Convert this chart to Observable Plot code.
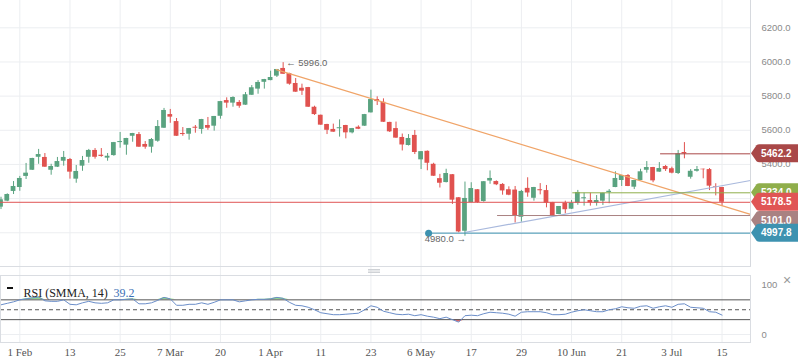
<!DOCTYPE html>
<html><head><meta charset="utf-8">
<script src="https://cdn.jsdelivr.net/npm/d3@7"></script>
<script src="https://cdn.jsdelivr.net/npm/@observablehq/plot@0.6"></script>
<style>
html,body{margin:0;padding:0;background:#fff;}
#wrap{position:relative;width:798px;height:363px;overflow:hidden;}
#main,#rsi{position:absolute;left:0;}
#main{top:0;} #rsi{top:267px;}
svg{display:block;}
</style></head><body>
<div id="wrap"><div id="main"></div><div id="rsi"></div></div>
<script>
const opens = [5150,5185,5242,5265,5330,5366,5442,5441,5366,5384,
5419,5429,5314,5390,5442,5482,5454,5437,5452,5528,
5513,5565,5575,5517,5501,5536,5612,5692,5651,5581,
5577,5618,5605,5628,5624,5682,5774,5759,5763,5747,
5805,5841,5881,5891,5917,5962,5932,5874,5846,5850,
5735,5688,5634,5605,5609,5628,5585,5618,5624,5702,
5780,5764,5646,5610,5558,5511,5570,5427,5477,5401,
5317,5294,5340,5205,5009,5177,5252,5183,5303,5300,
5283,5252,5250,5091,5260,5202,5252,5247,5177,5107,
5173,5138,5173,5199,5189,5175,5185,5236,5265,5306,
5335,5267,5306,5366,5382,5355,5388,5375,5347,5470,
5325,5360,5372,5370,5269,5265];
const highs = [5208,5228,5300,5330,5406,5436,5488,5464,5401,5441,
5476,5435,5394,5447,5488,5493,5493,5464,5529,5587,
5553,5582,5587,5534,5552,5657,5728,5722,5669,5616,
5611,5628,5664,5675,5681,5769,5790,5796,5774,5821,
5862,5891,5898,5946,5956,5996,5934,5903,5870,5851,
5741,5689,5635,5636,5661,5629,5611,5626,5693,5835,
5796,5784,5647,5648,5578,5575,5599,5476,5479,5407,
5342,5372,5341,5206,5297,5293,5253,5300,5362,5304,
5288,5269,5271,5248,5322,5266,5288,5277,5178,5154,
5185,5189,5248,5232,5232,5218,5232,5253,5357,5336,
5341,5307,5372,5417,5383,5411,5394,5384,5482,5528,
5370,5388,5373,5376,5287,5266];
const lows = [5136,5182,5224,5243,5312,5365,5401,5383,5337,5382,
5390,5314,5290,5360,5407,5431,5442,5419,5448,5495,
5454,5530,5500,5489,5466,5530,5611,5641,5564,5565,
5542,5583,5577,5600,5595,5665,5729,5735,5729,5746,
5804,5811,5841,5890,5909,5927,5864,5822,5804,5734,
5687,5629,5575,5588,5560,5550,5579,5604,5623,5701,
5745,5646,5587,5553,5479,5508,5458,5370,5363,5330,
5262,5292,5166,5000,4980,5176,5173,5179,5284,5276,
5220,5217,5057,5062,5208,5185,5222,5146,5097,5106,
5111,5137,5161,5156,5156,5156,5160,5170,5264,5271,
5270,5253,5305,5349,5293,5354,5359,5345,5341,5433,
5314,5355,5316,5247,5216,5154];
const closes = [5193,5224,5271,5318,5349,5435,5458,5384,5388,5417,
5441,5355,5359,5423,5482,5442,5447,5448,5528,5534,
5552,5581,5501,5501,5546,5622,5716,5677,5565,5575,
5610,5612,5663,5612,5681,5768,5759,5792,5741,5808,
5849,5880,5897,5909,5956,5928,5870,5823,5829,5735,
5692,5630,5600,5589,5615,5585,5610,5606,5692,5780,
5768,5647,5591,5554,5514,5552,5470,5475,5407,5331,
5290,5347,5191,5005,5201,5259,5177,5299,5318,5281,
5245,5220,5098,5242,5233,5265,5246,5173,5101,5154,
5135,5173,5236,5205,5175,5189,5231,5243,5318,5335,
5271,5306,5357,5382,5304,5376,5370,5349,5462,5462.2,
5360,5370,5369,5273,5265,5178.5];
const rsiValues = [60,63,66,70,72,74,76,68,67,67,
70,61,60,64,67,64,63,64,70,70,
71,72,62,62,64,69,75,72,59,59,
61,61,64,61,65,70,70,70,66,68,
70,71,71,72,75,73,65,59,58,55,
50,44,42,40,40,41,42,43,50,58,
55,47,44,41,40,41,38,40,37,35,
32,35,30,25,38,39,38,42,45,44,
43,41,37,45,46,46,46,44,40,40,
41,45,48,50,48,46,46,50,52,56,
54,53,57,58,53,56,58,55,61,62,
55,54,53,46,45,39.2];

const dateTickIndex = [3,11,19,27,35,43,51,59,67,75,83,91,99,107,115];
const dateLabels = ["1 Feb","13","25","7 Mar","20","1 Apr","11","23","6 May","17","29","10 Jun","21","3 Jul","15"];
const priceTicks = [5000,5200,5400,5600,5800,6000,6200];
const rsiTicks = [0,100];
const rsiLevels = [30,50,70];

// drawn tools
const orangeTrendX = [43.9, 119.54], orangeTrendY = [5955, 5108];
const blueTrendX = [74.08, 119.54], blueTrendY = [5003, 5306];
const levelValues = [5462.2, 5234.0, 5178.5, 5101.0, 4997.8];
const levelLabels = ["5462.2","5234.0","5178.5","5101.0","4997.8"];
const levelStart = [105.2, 91.2, -0.08, 79.2, 68.2];
const levelColors = ["#a94848","#8fae4b","#e05555","#a98282","#3d92b0"];
const highMark = {i:45, v:5996, label:"← 5996.0"};
const lowMark = {i:74, v:4980, label:"4980.0 →"};

const GREEN = "#5aa380", RED = "#e0524f";
const GRID = "#eceef1";
const xDomain = [-0.08, 119.54];

const candles = opens.map((o,i)=>({i, o, h:highs[i], l:lows[i], c:closes[i], up: closes[i] >= o}));
const up = candles.filter(d=>d.up), down = candles.filter(d=>!d.up);
const levels = levelValues.map((v,k)=>({v, x1: levelStart[k], x2: xDomain[1], color: levelColors[k]}));
const orange = orangeTrendX.map((x,k)=>({x, y: orangeTrendY[k]}));
const blue = blueTrendX.map((x,k)=>({x, y: blueTrendY[k]}));

const sans = "Liberation Sans, Arial, sans-serif";
const serif = "Liberation Serif, Times New Roman, serif";

const main = Plot.plot({
  width: 798, height: 267, marginLeft: 0, marginRight: 48, marginTop: 0, marginBottom: 1,
  x: {domain: xDomain, axis: null},
  y: {domain: [4802.6, 6359.8], axis: null},
  style: {fontFamily: sans, background: "transparent"},
  marks: [
    Plot.ruleY(priceTicks, {stroke: GRID}),
    Plot.ruleX(dateTickIndex, {stroke: GRID}),
    Plot.ruleX(up, {x: "i", y1: "l", y2: "h", stroke: GREEN}),
    Plot.ruleX(down, {x: "i", y1: "l", y2: "h", stroke: RED}),
    Plot.rect(up, {x1: d=>d.i-0.38, x2: d=>d.i+0.38, y1: "o", y2: "c", fill: GREEN}),
    Plot.rect(down, {x1: d=>d.i-0.38, x2: d=>d.i+0.38, y1: "o", y2: "c", fill: RED}),
    Plot.line(orange, {x: "x", y: "y", stroke: "#f0a468", strokeWidth: 1.2}),
    Plot.line(blue, {x: "x", y: "y", stroke: "#a9b9dd", strokeWidth: 1.2}),
    Plot.ruleY(levels, {y: "v", x1: "x1", x2: "x2", stroke: d=>d.color}),
    Plot.dot([levels[4]], {x: "x1", y: "v", r: 3.5, fill: "#3d92b0"}),
    Plot.text([highMark], {x: "i", y: "v", text: "label", textAnchor: "start", dx: 3, fill: "#666", fontSize: 9.5}),
    Plot.text([lowMark], {x: "i", y: "v", text: "label", textAnchor: "end", dx: 1, dy: 3, fill: "#666", fontSize: 9.5}),
    Plot.text(priceTicks, {x: xDomain[1], y: d=>d, text: d=>d.toFixed(1), textAnchor: "start", dx: 11, fill: "#8a8a8a", fontSize: 9.5}),
    Plot.ruleX([xDomain[1]], {stroke: "#d6d9de"}),
    Plot.frame({anchor: "bottom", stroke: "#dadde2"})
  ]
});
document.getElementById("main").appendChild(main);

const ys = main.scale("y");
const svgMain = d3.select(main);
function tag(v, color, label, off) {
  const y = ys.apply(v) + (off||0);
  const g = svgMain.append("g").attr("text-anchor", "start");
  g.append("path")
    .attr("d", `M751,${y} L756.5,${y-8} Q757.5,${y-9} 759.5,${y-9} H798 V${y+9} H759.5 Q757.5,${y+9} 756.5,${y+8} Z`)
    .attr("fill", color);
  g.append("text").attr("x", 761).attr("y", y).attr("dy", "0.35em")
    .attr("text-anchor", "start")
    .attr("fill", "#fff").attr("font-size", 10).attr("font-weight", "bold")
    .attr("font-family", sans).text(label);
}
const order = [1, 3, 4, 2, 0];
const offs = {3: 5};
order.forEach(k => tag(levelValues[k], levelColors[k], levelLabels[k], offs[k]));

const rsiData = rsiValues.map((v,i)=>({i, v}));
const rsi = Plot.plot({
  width: 798, height: 96, marginLeft: 0, marginRight: 48, marginTop: 8, marginBottom: 21,
  x: {domain: xDomain, axis: null},
  y: {domain: [-16.16, 119.19], axis: null},
  style: {fontFamily: sans, background: "transparent"},
  marks: [
    Plot.ruleX(dateTickIndex, {y1: 135.35, y2: -16.16, stroke: GRID}),
    Plot.ruleY([0], {stroke: GRID}),
    Plot.areaY(rsiData, {x: "i", y1: 70, y2: d=>Math.max(d.v,70), fill: "#8fd48f"}),
    Plot.areaY(rsiData, {x: "i", y1: d=>Math.min(d.v,30), y2: 30, fill: "#e86a6a"}),
    Plot.ruleY([rsiLevels[0], rsiLevels[2]], {stroke: "#555"}),
    Plot.ruleY([rsiLevels[1]], {stroke: "#555", strokeDasharray: "4,3"}),
    Plot.line(rsiData, {x: "i", y: "v", stroke: "#6b8ec9", strokeWidth: 1}),
    Plot.text(rsiTicks, {x: xDomain[1], y: d=>d, text: d=>String(d), textAnchor: "start", dx: 11, fill: "#8a8a8a", fontSize: 9.5}),
    Plot.text(dateTickIndex, {x: d=>d, frameAnchor: "bottom", dy: 13, text: (d,j)=>dateLabels[j], fill: "#555", fontSize: 11, fontFamily: serif}),
    Plot.text(["RSI (SMMA, 14)"], {frameAnchor: "top-left", dx: 23, dy: 13, textAnchor: "start", fill: "#222", fontSize: 12, fontFamily: serif}),
    Plot.text([rsiValues[rsiValues.length-1].toFixed(1)], {frameAnchor: "top-left", dx: 113, dy: 13, textAnchor: "start", fill: "#3b6fb5", fontSize: 12, fontFamily: serif}),
    Plot.frame({stroke: "#dadde2"})
  ]
});
document.getElementById("rsi").appendChild(rsi);
const svgR = d3.select(rsi);
svgR.append("rect").attr("x", 7).attr("y", 20).attr("width", 6).attr("height", 2).attr("fill", "#111");
[2.5, 4, 5.5].forEach(y => svgR.append("line").attr("x1", 368).attr("x2", 380).attr("y1", y).attr("y2", y).attr("stroke", "#cfd2d6"));
svgR.append("text").attr("x", 787).attr("y", 13).attr("dy", "0.35em").attr("text-anchor", "middle")
  .attr("fill", "#999").attr("font-size", 14).attr("font-family", sans).text("×");
</script>
</body></html>
